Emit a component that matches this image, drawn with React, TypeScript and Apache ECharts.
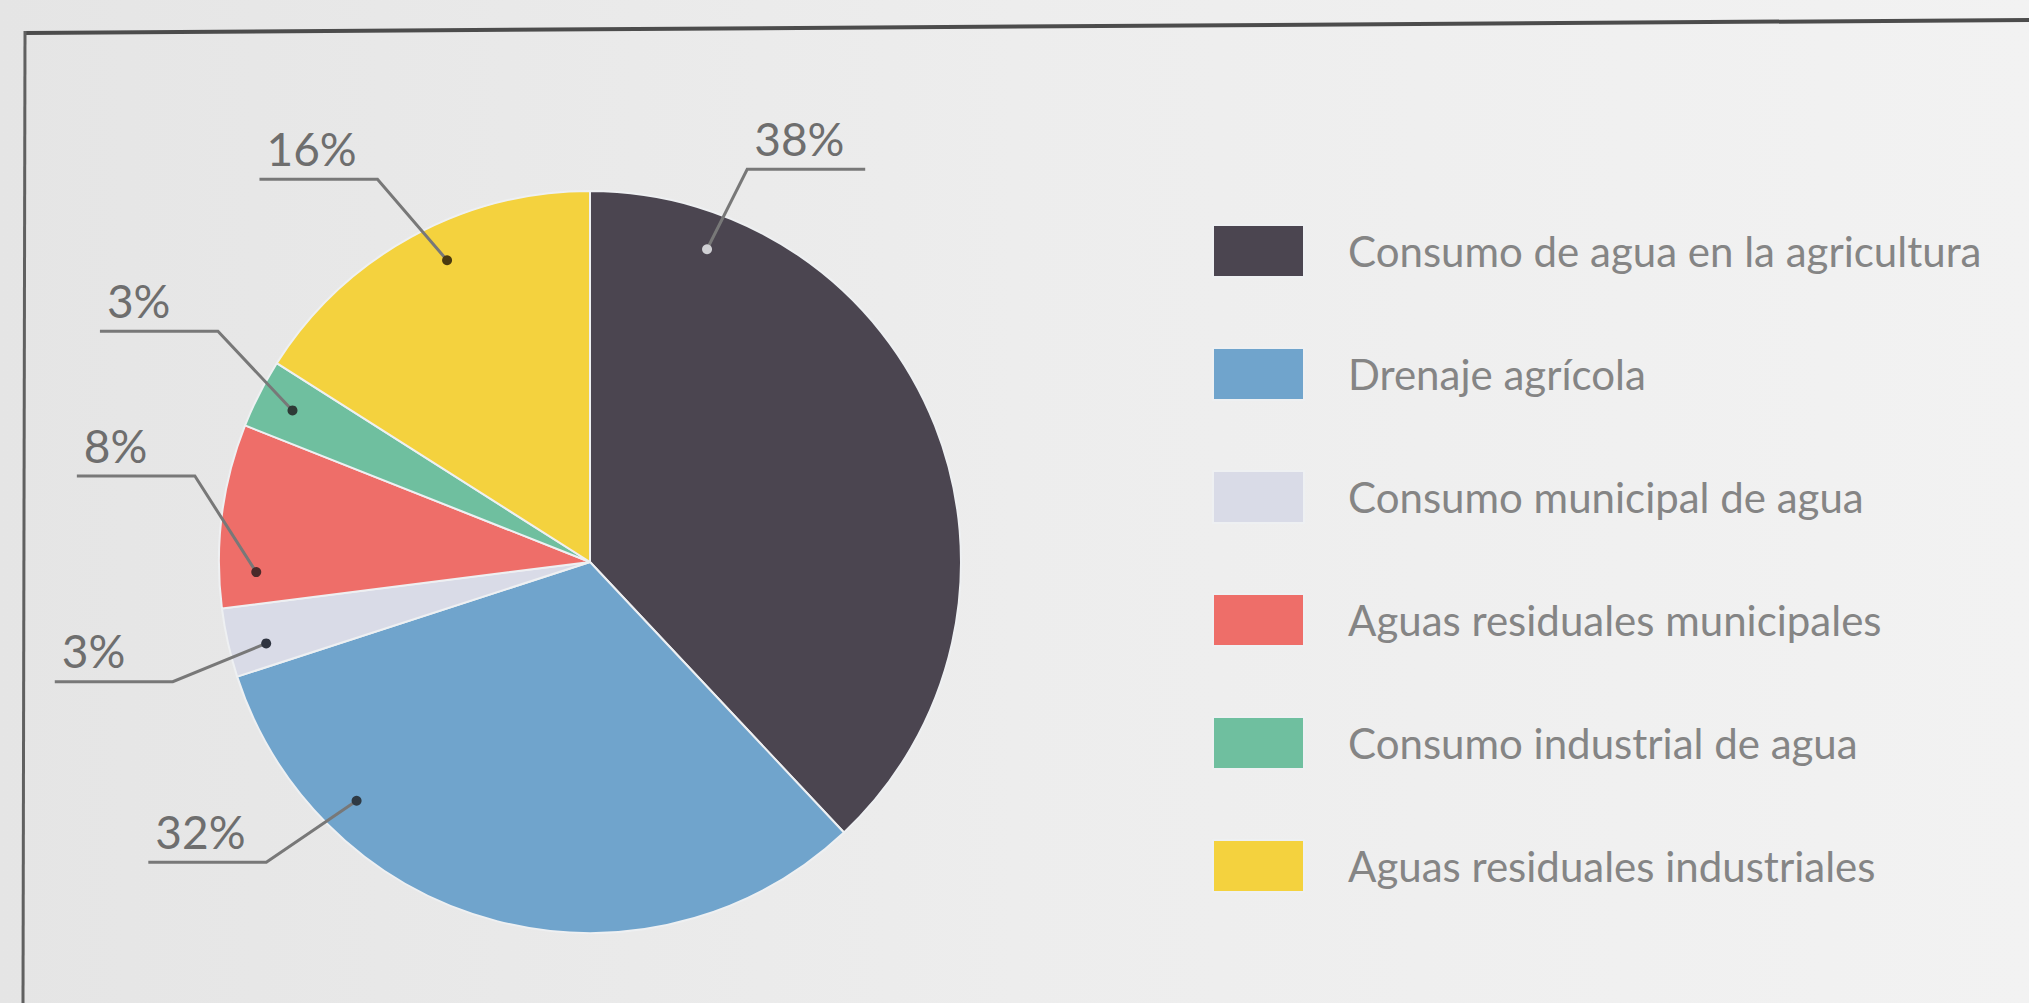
import React, { useEffect, useRef } from "react";
import * as echarts from "echarts";

// ---- data ----
const categories = [
  "Consumo de agua en la agricultura",
  "Drenaje agrícola",
  "Consumo municipal de agua",
  "Aguas residuales municipales",
  "Consumo industrial de agua",
  "Aguas residuales industriales",
];
const values = [38, 32, 3, 8, 3, 16];

// ---- styles / layout ----
const colors = ["#4b4550", "#70a4cc", "#d9dbe7", "#ee6e69", "#6fbf9f", "#f4d23e"];
const dotColors = ["#d0d0d4", "#2f3a44", "#2f3440", "#4a2a2a", "#2e3a36", "#4a3a10"];
const CX = 590;
const CY = 562;
const R = 371;
const DOT_R = 0.9;
// label anchor position inside each slice (fraction of the slice span)
const anchorFrac = [0.15, 0.76, 0.36, 0.19, 0.5, 0.56];
// label bend: radius (x R) and angular shift (deg) from anchor direction
const bendRadius = [1.14, 1.19, 1.17, 1.09, 1.18, 1.18];
const bendShift = [1.3, 2.8, -1.9, 14, 4.8, -3.7];
const SEG = 118;

const total = values.reduce((a, b) => a + b, 0);
const starts: number[] = [];
values.reduce((acc, v, i) => {
  starts[i] = acc;
  return acc + v;
}, 0);

export default function App() {
  const ref = useRef<HTMLDivElement>(null);
  useEffect(() => {
    document.body.style.margin = "0";
    const chart = echarts.init(ref.current!, null, { renderer: "svg" });
    const anchorVal = values.map((v, i) => starts[i] + anchorFrac[i] * v);
    chart.setOption({
      animation: false,
      backgroundColor: new echarts.graphic.LinearGradient(0, 0, 1, 0, [
        { offset: 0, color: "#e5e5e5" },
        { offset: 0.5, color: "#ededed" },
        { offset: 1, color: "#f2f2f2" },
      ]),
      graphic: [
        {
          type: "line",
          shape: { x1: 25, y1: 33, x2: 2029, y2: 20 },
          style: { stroke: "#4c4c4c", lineWidth: 4 },
          z: 10,
        },
        {
          type: "line",
          shape: { x1: 25, y1: 31, x2: 23, y2: 1003 },
          style: { stroke: "#606060", lineWidth: 3 },
          z: 10,
        },
      ],
      legend: {
        orient: "vertical",
        left: 1207,
        top: 219,
        itemWidth: 91,
        itemHeight: 52,
        itemGap: 69,
        icon: "rect",
        selectedMode: false,
        data: categories,
        textStyle: {
          fontFamily: "Lato",
          fontSize: 42,
          fontWeight: 400,
          color: "#858585",
          lineHeight: 52,
          padding: [0, 0, 0, 39],
        },
      },
      polar: { center: [CX, CY], radius: R },
      angleAxis: {
        type: "value",
        min: 0,
        max: total,
        startAngle: 90,
        clockwise: true,
        show: false,
      },
      radiusAxis: { type: "value", min: 0, max: 1, show: false },
      series: [
        {
          type: "pie",
          center: [CX, CY],
          radius: R,
          startAngle: 90,
          clockwise: true,
          data: categories.map((name, i) => ({
            name,
            value: values[i],
            itemStyle: { color: colors[i] },
          })),
          itemStyle: { borderColor: "#eef0f2", borderWidth: 2 },
          label: { show: false },
          labelLine: { show: false },
          emphasis: { disabled: true },
          z: 2,
        },
        {
          type: "custom",
          coordinateSystem: "polar",
          silent: true,
          z: 5,
          data: values.map((v, i) => [DOT_R, anchorVal[i], i, v]),
          renderItem: (params: any, api: any) => {
            const i = api.value(2);
            const p0 = api.coord([api.value(0), api.value(1)]);
            const bendVal = api.value(1) + (bendShift[i] * total) / 360;
            const p1 = api.coord([bendRadius[i], bendVal]);
            const right = p1[0] > CX;
            const p2 = [p1[0] + (right ? SEG : -SEG), p1[1]];
            return {
              type: "group",
              children: [
                {
                  type: "polyline",
                  shape: { points: [p0, p1, p2] },
                  style: { stroke: "#787878", lineWidth: 3, fill: null },
                },
                {
                  type: "circle",
                  shape: { cx: p0[0], cy: p0[1], r: 5 },
                  style: { fill: dotColors[i] },
                },
                {
                  type: "text",
                  x: Math.min(p1[0], p2[0]) + 7,
                  y: p1[1] - 8,
                  style: {
                    text: api.value(3) + "%",
                    fontFamily: "Lato",
                    fontSize: 46,
                    lineHeight: 46,
                    fill: "#6e6e6e",
                    align: "left",
                    verticalAlign: "bottom",
                  },
                },
              ],
            };
          },
        },
      ],
    });
    return () => chart.dispose();
  }, []);
  return (
    <div
      ref={ref}
      style={{ position: "absolute", left: 0, top: 0, width: 2029, height: 1003 }}
    />
  );
}
